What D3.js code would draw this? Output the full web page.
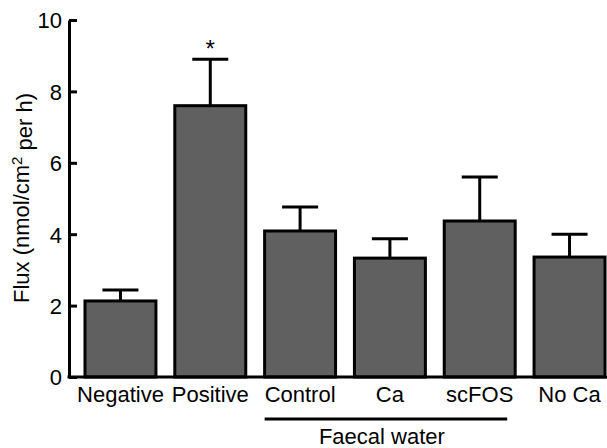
<!DOCTYPE html>
<html>
<head>
    <meta charset="utf-8" />
    <title>Flux bar chart</title>
    <style>
        body { margin: 0; background: #fff; }
        text { font-family: "Liberation Sans", Arial, Helvetica, sans-serif; fill: #000; }
    </style>
</head>
<body>
<script src="https://d3js.org/d3.v7.min.js"></script>
<script>
    var groups = ["Negative", "Positive", "Control", "Ca", "scFOS", "No Ca"];
    var means = [2.13, 7.6, 4.09, 3.33, 4.37, 3.36];
    var errors = [0.31, 1.3, 0.67, 0.54, 1.23, 0.64];
    var yTicks = [0, 2, 4, 6, 8, 10];
    var significant = ["Positive"];
    var faecalGroups = ["Control", "Ca", "scFOS"];

    var width = 607;
    var height = 448;
    var plotLeft = 69, plotTop = 20, plotBottom = 377;
    var fontSize = "22px";

    var svg = d3.select("body").append("svg")
                .attr("width", width)
                .attr("height", height);

    var x = d3.scaleBand()
              .domain(groups)
              .range([plotLeft, 621])
              .paddingInner(0.21)
              .paddingOuter(0.178);

    var y = d3.scaleLinear()
              .domain([0, 10])
              .range([plotBottom, plotTop]);

    // y axis, ticks pointing inward
    var yAxis = svg.append("g")
                   .attr("transform", "translate(" + plotLeft + ",0)")
                   .call(d3.axisLeft(y)
                           .tickValues(yTicks)
                           .tickSize(-8)
                           .tickSizeOuter(0)
                           .tickPadding(7));
    yAxis.select(".domain").attr("stroke-width", 3);
    yAxis.selectAll(".tick line").attr("stroke-width", 3);
    yAxis.selectAll(".tick text")
         .style("font-size", fontSize)
         .style("font-family", "'Liberation Sans', Arial, sans-serif")
         .attr("dy", "0.36em");

    // bars
    svg.append("g")
       .selectAll("rect")
       .data(groups)
       .enter().append("rect")
       .attr("x", d => x(d))
       .attr("y", (d, i) => y(means[i]))
       .attr("width", x.bandwidth())
       .attr("height", (d, i) => y(0) - y(means[i]))
       .attr("fill", "#606060")
       .attr("stroke", "#000")
       .attr("stroke-width", 3);

    // error bars (upper only)
    var capHalf = 18;
    var err = svg.append("g")
                 .attr("stroke", "#000")
                 .attr("stroke-width", 3);
    groups.forEach(function(g, i) {
        var cx = x(g) + x.bandwidth() / 2;
        err.append("line")
           .attr("x1", cx).attr("x2", cx)
           .attr("y1", y(means[i])).attr("y2", y(means[i] + errors[i]));
        err.append("line")
           .attr("x1", cx - capHalf).attr("x2", cx + capHalf)
           .attr("y1", y(means[i] + errors[i])).attr("y2", y(means[i] + errors[i]));
    });

    // baseline
    svg.append("line")
       .attr("x1", plotLeft - 1.5).attr("x2", width)
       .attr("y1", y(0)).attr("y2", y(0))
       .attr("stroke", "#000")
       .attr("stroke-width", 3);

    // category labels
    svg.append("g")
       .selectAll("text")
       .data(groups)
       .enter().append("text")
       .attr("x", d => x(d) + x.bandwidth() / 2)
       .attr("y", 402)
       .attr("text-anchor", "middle")
       .style("font-size", fontSize)
       .text(d => d);

    // significance marker
    svg.selectAll(".star")
       .data(significant)
       .enter().append("text")
       .attr("class", "star")
       .attr("x", d => x(d) + x.bandwidth() / 2)
       .attr("y", d => y(means[groups.indexOf(d)] + errors[groups.indexOf(d)]) - 2)
       .attr("text-anchor", "middle")
       .style("font-size", "24px")
       .text("*");

    // faecal water bracket
    var fx1 = x(faecalGroups[0]);
    var fx2 = x(faecalGroups[faecalGroups.length - 1]) + x.bandwidth() - 8;
    svg.append("line")
       .attr("x1", fx1).attr("x2", fx2)
       .attr("y1", 419).attr("y2", 419)
       .attr("stroke", "#000")
       .attr("stroke-width", 3);
    svg.append("text")
       .attr("x", (fx1 + fx2) / 2 - 4)
       .attr("y", 444)
       .attr("text-anchor", "middle")
       .style("font-size", fontSize)
       .text("Faecal water");

    // y axis title
    var title = svg.append("text")
                   .attr("transform", "translate(29,198) rotate(-90)")
                   .attr("text-anchor", "middle")
                   .style("font-size", fontSize);
    title.append("tspan").text("Flux (nmol/cm");
    title.append("tspan").attr("dy", "-0.45em").style("font-size", "15px").text("2");
    title.append("tspan").attr("dy", "0.45em").text(" per h)");
</script>
</body>
</html>
